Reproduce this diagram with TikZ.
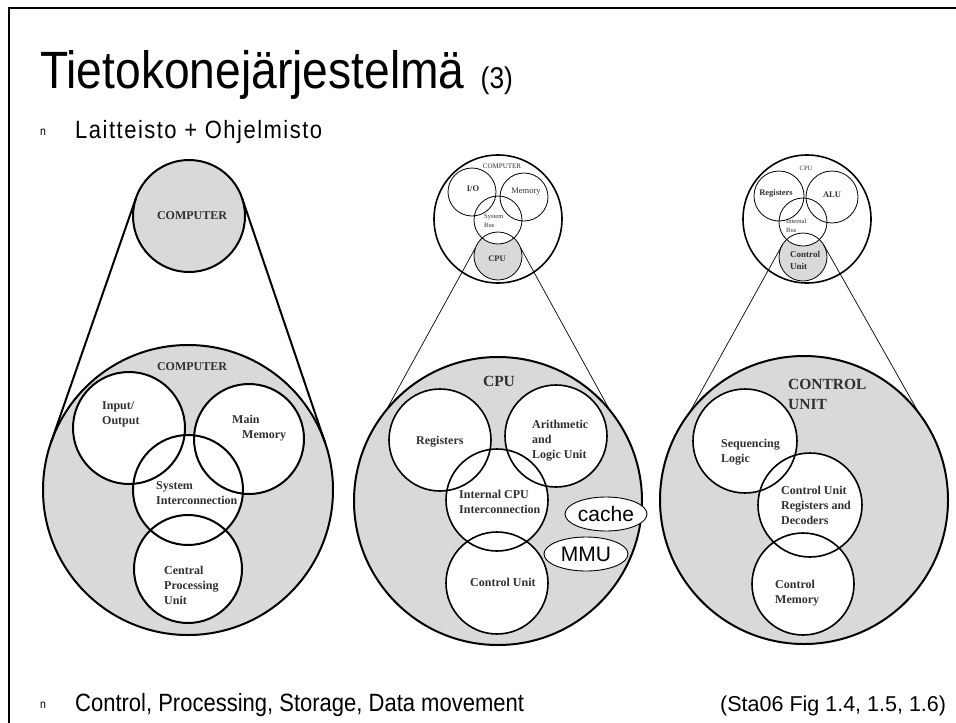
\documentclass[tikz,border=0pt]{standalone}
\usepackage{fontspec}
\setmainfont{Liberation Serif}
\newfontfamily\slidefont{Liberation Sans}[FakeStretch=0.88]
\newfontfamily\arialfont{Liberation Sans}
\usetikzlibrary{shapes.geometric}
\pgfdeclarelayer{bg}
\pgfsetlayers{bg,main}
\definecolor{cgray}{gray}{0.85}
\definecolor{txtc}{HTML}{303030}
\begin{document}
\begin{tikzpicture}[x=1pt,y=-1pt,
  circ/.style={circle, draw=black, inner sep=0pt, outer sep=0pt, minimum size=#1},
  thick2/.style={line width=2pt},
  thin1/.style={line width=0.8pt},
  mid1/.style={line width=1.6pt},
  lbl/.style={inner sep=0pt, text=txtc, font=\bfseries\fontsize{12}{15}\selectfont},
  lblL/.style={lbl, align=left, anchor=base west},
  tiny/.style={inner sep=0pt, text=txtc, font=\fontsize{6.5}{9}\selectfont},
  small/.style={inner sep=0pt, text=txtc, font=\bfseries\fontsize{8.5}{10}\selectfont},
  big/.style={inner sep=0pt, text=txtc, font=\bfseries\fontsize{15.5}{20}\selectfont},
  oval/.style={ellipse, draw=black, line width=0.9pt, fill=white, inner sep=0pt, outer sep=0pt, font=\arialfont\fontsize{21}{21}\selectfont},
  slide/.style={inner sep=0pt, anchor=base west, font=\slidefont\fontsize{25}{28}\selectfont},
  bullet/.style={inner sep=0pt, anchor=base west, font=\slidefont\fontsize{12}{12}\selectfont}]
\useasboundingbox (0,0) rectangle (956,723);
% frame
\draw[line width=2.6pt] (9,724) -- (9,8) -- (957,8);

% slide text
\node[slide, font=\slidefont\fontsize{52.5}{56}\selectfont] (title) at (40,88)
  {Tietokonejärjestelmä\hspace{16pt}{\fontsize{30}{30}\selectfont(3)}};
\node[bullet] (b1) at (40,135) {n};
\node[slide, font=\slidefont\fontsize{25}{28}\selectfont\addfontfeature{LetterSpace=6}] (t1) at (75,138) {Laitteisto + Ohjelmisto};
\node[bullet] (b2) at (40,708) {n};
\node[slide] (t2) at (75,711) {Control, Processing, Storage, Data movement};
\node[inner sep=0pt, anchor=base west, font=\arialfont\fontsize{21.5}{24}\selectfont] (src) at (720,711) {(Sta06 Fig 1.4, 1.5, 1.6)};

% ===== left diagram =====
\node[circ=112pt, thick2] (LS) at (189,216) {};
\node[circ=290pt, thick2] (LB) at (188,490) {};
\node[circ=112pt, thick2] (LIO) at (129,428) {};
\node[circ=110pt, thick2] (LMM) at (249,439) {};
\node[circ=110pt, thick2] (LSI) at (188,490) {};
\node[circ=108pt, thick2] (LCPU) at (188,569) {};
\draw[thick2] (LS.161) -- (LB.161);
\draw[thick2] (LS.19) -- (LB.19);
\node[lbl] (lsT) at (192,216) {COMPUTER};
\node[lbl] (lbT) at (192,367) {COMPUTER};
\node[lblL] (lioT) at (102,424) {Input/\\Output};
\node[lblL] (lmmT) at (232,438) {Main\\\hspace*{10pt}Memory};
\node[lblL] (lsiT) at (156,504) {System\\Interconnection};
\node[lblL] (lcpuT) at (164,604) {Central\\Processing\\Unit};

% ===== middle diagram =====
\node[circ=128pt, mid1] (MT) at (498,219) {};
\node[circ=48pt, thin1] (MIO) at (472,192) {};
\node[circ=48pt, thin1] (MMem) at (524,197) {};
\node[circ=48pt, thin1] (MSB) at (498,220) {};
\node[circ=48pt, thin1] (MCPU) at (498,256) {};
\node[circ=288pt, thick2] (MB) at (498,501) {};
\node[circ=102pt, mid1] (MR) at (440,440) {};
\node[circ=102pt, mid1] (MALU) at (556,436) {};
\node[circ=102pt, mid1] (MI) at (497,500) {};
\node[circ=102pt, mid1] (MCU) at (497,583) {};
\draw[line width=0.7pt] (MCPU.160) -- (MB.141);
\draw[line width=0.7pt] (MCPU.20) -- (MB.39);
\node[tiny, font=\fontsize{7}{8}\selectfont] (mtT) at (502,166) {COMPUTER};
\node[small] (mioT) at (473,189) {I/O};
\node[small, font=\fontsize{8.5}{10}\selectfont] (mmemT) at (526,192) {Memory};
\node[tiny, align=left, anchor=base west] (msbT) at (484,227) {System\\Bus};
\node[small] (mcpuT) at (497,259) {CPU};
\node[big] (mbT) at (499,381) {CPU};
\node[lblL] (mrT) at (416,444) {Registers};
\node[lblL] (maluT) at (532,458) {Arithmetic\\and\\Logic Unit};
\node[lblL] (miT) at (459,513) {Internal CPU\\Interconnection};
\node[lblL] (mcuT) at (470,586) {Control Unit};
\node[oval, minimum width=82pt, minimum height=34pt] (cache) at (606,514) {cache};
\node[oval, minimum width=84pt, minimum height=34pt] (mmu) at (586,554) {MMU};

% ===== right diagram =====
\node[circ=128pt, mid1] (RT) at (807,219) {};
\node[circ=50pt, thin1] (RReg) at (779,196) {};
\node[circ=52pt, thin1] (RALU) at (832,197) {};
\node[circ=48pt, thin1] (RIB) at (803,222) {};
\node[circ=48pt, thin1] (RCU) at (803,257) {};
\node[circ=288pt, thick2] (RB) at (804,500) {};
\node[circ=104pt, mid1] (RSL) at (745,441) {};
\node[circ=104pt, mid1] (RCR) at (810,505) {};
\node[circ=102pt, mid1] (RCM) at (803,584) {};
\draw[line width=0.7pt] (RCU.150) -- (RB.143);
\draw[line width=0.7pt] (RCU.30) -- (RB.37);
\node[tiny, font=\fontsize{6.5}{8}\selectfont] (rtT) at (806,168) {CPU};
\node[small] (rregT) at (776,193) {Registers};
\node[small] (raluT) at (832,195) {ALU};
\node[tiny, align=left, anchor=base west] (ribT) at (786,232) {Internal\\Bus};
\node[small, font=\bfseries\fontsize{9}{12.5}\selectfont, align=left, anchor=base west] (rcuT) at (790,269.5) {Control\\Unit};
\node[big, align=left, anchor=base west] (rbT) at (788,409) {CONTROL\\UNIT};
\node[lblL] (rslT) at (721,462) {Sequencing\\Logic};
\node[lblL] (rcrT) at (781,524) {Control Unit\\Registers and\\Decoders};
\node[lblL] (rcmT) at (775,603) {Control\\Memory};

% ===== fills on background layer =====
\begin{pgfonlayer}{bg}
  \fill[white] (0,0) rectangle (956,723);
  \fill[cgray] (LS.center) circle[radius=56pt];
  \fill[cgray] (LB.center) circle[radius=145pt];
  \fill[white] (LIO.center) circle[radius=56pt];
  \fill[white] (LMM.center) circle[radius=55pt];
  \fill[white] (LSI.center) circle[radius=55pt];
  \fill[white] (LCPU.center) circle[radius=54pt];
  \fill[cgray] (MCPU.center) circle[radius=24pt];
  \fill[white] (MSB.center) circle[radius=24pt];
  \fill[cgray] (MB.center) circle[radius=144pt];
  \fill[white] (MR.center) circle[radius=51pt];
  \fill[white] (MALU.center) circle[radius=51pt];
  \fill[white] (MI.center) circle[radius=51pt];
  \fill[white] (MCU.center) circle[radius=51pt];
  \fill[cgray] (RCU.center) circle[radius=24pt];
  \fill[white] (RIB.center) circle[radius=24pt];
  \fill[cgray] (RB.center) circle[radius=144pt];
  \fill[white] (RSL.center) circle[radius=52pt];
  \fill[white] (RCR.center) circle[radius=52pt];
  \fill[white] (RCM.center) circle[radius=51pt];
\end{pgfonlayer}
\end{tikzpicture}
\end{document}
